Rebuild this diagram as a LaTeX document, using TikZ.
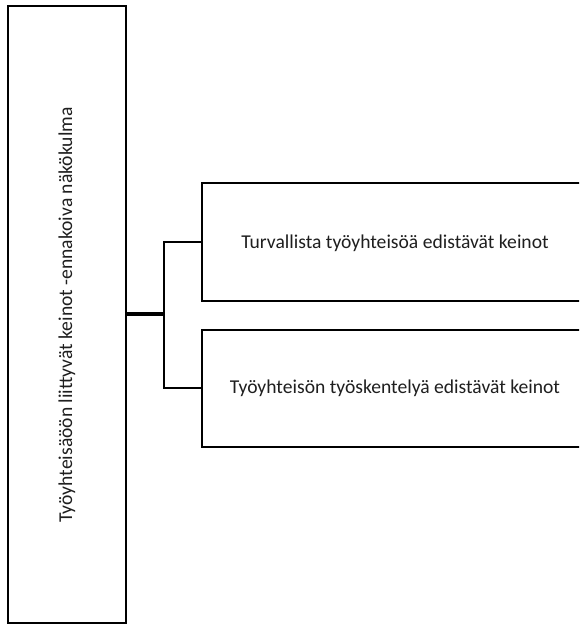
\documentclass[tikz,border=0pt]{standalone}
\usepackage{fontspec}
\setmainfont{Carlito}
\begin{document}
\begin{tikzpicture}[x=1pt,y=-1pt,
  frame/.style={draw=black,line width=2pt,fill=white,inner sep=0pt},
  link/.style={draw=black,line width=2pt},
  mainlink/.style={draw=black,line width=3.2pt},
  label/.style={font=\fontsize{19.6}{23}\selectfont,text=black!88}]
\useasboundingbox (0,0) rectangle (579,624);
\clip (0,0) rectangle (579,624);
% left tall box with rotated title
\node[frame,minimum width=118pt,minimum height=617pt] (root) at (67,314) {};
\node[label,rotate=90] (roottxt) at (67,315) {Työyhteisäöön liittyvät keinot -ennakoiva näkökulma};
% right-hand boxes
\node[frame,minimum width=386pt,minimum height=118pt] (b1) at (395,241.5) {};
\node[label] (b1txt) at (395,243) {Turvallista työyhteisöä edistävät keinot};
\node[frame,minimum width=386pt,minimum height=117pt] (b2) at (395,388) {};
\node[label] (b2txt) at (395,388) {Työyhteisön työskentelyä edistävät keinot};
% connectors
\coordinate (j) at (163.5,314);
\draw[mainlink] (root.east) -- (j);
\draw[link] (b1.west) -| (j) |- (b2.west);
\end{tikzpicture}
\end{document}
